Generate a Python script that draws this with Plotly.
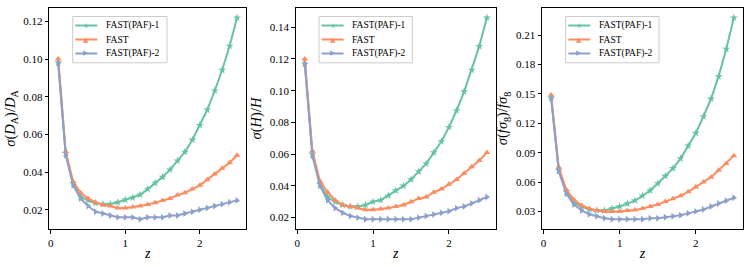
import plotly.graph_objects as go

z = [round(0.1 * i, 1) for i in range(1, 26)]

# Panel 1: sigma(D_A)/D_A
da_paf1 = [0.098, 0.050, 0.034, 0.027, 0.025, 0.0235, 0.023, 0.023, 0.024, 0.0253,
           0.0264, 0.028, 0.031, 0.0342, 0.0374, 0.0413, 0.046, 0.0507, 0.0571, 0.0649,
           0.0731, 0.0832, 0.0942, 0.107, 0.122]
da_fast = [0.100, 0.051, 0.035, 0.029, 0.026, 0.024, 0.0225, 0.022, 0.021, 0.021,
           0.0215, 0.022, 0.0228, 0.0238, 0.025, 0.026, 0.0278, 0.029, 0.031, 0.033,
           0.036, 0.039, 0.042, 0.045, 0.049]
da_paf2 = [0.098, 0.049, 0.033, 0.026, 0.022, 0.019, 0.018, 0.017, 0.016, 0.016,
           0.016, 0.015, 0.016, 0.016, 0.016, 0.017, 0.017, 0.018, 0.019, 0.020,
           0.021, 0.022, 0.023, 0.024, 0.025]

# Panel 2: sigma(H)/H
h_paf1 = [0.117, 0.060, 0.041, 0.033, 0.030, 0.028, 0.027, 0.027, 0.028, 0.030,
          0.031, 0.0338, 0.037, 0.040, 0.044, 0.049, 0.054, 0.061, 0.068, 0.077,
          0.0875, 0.0994, 0.113, 0.128, 0.146]
h_fast = [0.120, 0.062, 0.043, 0.036, 0.031, 0.028, 0.027, 0.026, 0.025, 0.025,
          0.0255, 0.026, 0.027, 0.028, 0.030, 0.032, 0.033, 0.036, 0.038, 0.041,
          0.044, 0.048, 0.052, 0.056, 0.061]
h_paf2 = [0.117, 0.059, 0.040, 0.031, 0.026, 0.023, 0.021, 0.020, 0.019, 0.019,
          0.019, 0.019, 0.019, 0.019, 0.019, 0.020, 0.021, 0.022, 0.023, 0.024,
          0.026, 0.027, 0.029, 0.031, 0.033]

# Panel 3: sigma(f sigma_8)/f sigma_8
fs_paf1 = [0.146, 0.072, 0.050, 0.039, 0.035, 0.032, 0.031, 0.031, 0.033, 0.035,
           0.038, 0.041, 0.046, 0.0513, 0.0585, 0.066, 0.074, 0.084, 0.097, 0.110,
           0.127, 0.145, 0.168, 0.196, 0.228]
fs_fast = [0.149, 0.075, 0.052, 0.042, 0.036, 0.033, 0.031, 0.030, 0.030, 0.030,
           0.031, 0.0315, 0.033, 0.035, 0.037, 0.040, 0.043, 0.046, 0.050, 0.055,
           0.060, 0.065, 0.072, 0.079, 0.087]
fs_paf2 = [0.146, 0.071, 0.048, 0.037, 0.031, 0.027, 0.025, 0.023, 0.022, 0.022,
           0.022, 0.022, 0.022, 0.023, 0.023, 0.024, 0.025, 0.026, 0.028, 0.030,
           0.032, 0.035, 0.038, 0.041, 0.044]

series_names = ["FAST(PAF)-1", "FAST", "FAST(PAF)-2"]
colors = ["#66c2a5", "#fc8d62", "#8da0cb"]
symbols = ["star", "triangle-up", "triangle-right"]
legend_glyphs = ["★", "▲", "▶"]

y_titles = [
    "<i>σ</i>(<i>D</i><sub>A</sub>)/<i>D</i><sub>A</sub>",
    "<i>σ</i>(<i>H</i>)/<i>H</i>",
    "<i>σ</i>(<i>fσ</i><sub>8</sub>)/<i>fσ</i><sub>8</sub>",
]
y_ticks = [
    [0.02, 0.04, 0.06, 0.08, 0.10, 0.12],
    [0.02, 0.04, 0.06, 0.08, 0.10, 0.12, 0.14],
    [0.03, 0.06, 0.09, 0.12, 0.15, 0.18, 0.21],
]
x_ticks = [0, 1, 2]

panels = [
    [da_paf1, da_fast, da_paf2],
    [h_paf1, h_fast, h_paf2],
    [fs_paf1, fs_fast, fs_paf2],
]

W, H = 747, 267
FONT = "Liberation Serif"


def px(xpage):
    return xpage / W


def py(ypage):
    return 1 - ypage / H


# pixel geometry (page coords) of axes frames
xdom_px = [(49.3, 246.0), (295.7, 496.0), (542.0, 743.0)]
ydom_px = (7.6, 229.3)
# legend boxes: left, top, right, bottom (page px)
legend_box = [(72.7, 16.5, 167.0, 62.8), (319.0, 16.5, 412.3, 62.8), (565.7, 16.5, 659.0, 62.8)]
row_offsets = [9.0, 23.0, 37.0]

fig = go.Figure()
for p, data in enumerate(panels):
    sfx = "" if p == 0 else str(p + 1)
    for k in range(3):
        fig.add_trace(go.Scatter(
            x=z, y=data[k], mode="lines+markers", name=series_names[k],
            line=dict(color=colors[k], width=2),
            marker=dict(symbol=symbols[k], size=6, color=colors[k], line=dict(width=0)),
            xaxis="x" + sfx, yaxis="y" + sfx,
            showlegend=False,
        ))

layout = dict(
    width=W, height=H,
    margin=dict(l=0, r=0, t=0, b=0),
    paper_bgcolor="white", plot_bgcolor="white",
    font=dict(family=FONT, size=10, color="black"),
    showlegend=False,
)

shapes = []
annotations = []
ydom = [py(ydom_px[1]), py(ydom_px[0])]
for p in range(3):
    sfx = "" if p == 0 else str(p + 1)
    allv = panels[p][0] + panels[p][1] + panels[p][2]
    lo, hi = min(allv), max(allv)
    pad = 0.05 * (hi - lo)
    axis_common = dict(
        showline=True, mirror=True, linecolor="black", linewidth=1,
        ticks="outside", ticklen=3.5, tickwidth=1, tickcolor="black",
        showgrid=False, zeroline=False,
        tickfont=dict(family=FONT, size=11, color="black"),
    )
    layout["xaxis" + sfx] = dict(
        axis_common,
        domain=[px(xdom_px[p][0]), px(xdom_px[p][1])],
        range=[-0.02, 2.62], tickvals=x_ticks, ticktext=[str(t) for t in x_ticks],
        anchor="y" + sfx,
        title=dict(text="<i>z</i>", font=dict(family=FONT, size=14), standoff=0),
    )
    layout["yaxis" + sfx] = dict(
        axis_common,
        domain=ydom,
        range=[lo - pad, hi + pad], tickvals=y_ticks[p],
        ticktext=["%.2f" % t for t in y_ticks[p]],
        anchor="x" + sfx,
        title=dict(text=y_titles[p], font=dict(family=FONT, size=14.5), standoff=4),
    )

    # manual legend (matplotlib style)
    l, t, r, b = legend_box[p]
    shapes.append(dict(
        type="rect", xref="paper", yref="paper",
        x0=px(l), x1=px(r), y0=py(b), y1=py(t),
        line=dict(color="#cccccc", width=1), fillcolor="rgba(255,255,255,0.8)",
        layer="above",
    ))
    for k in range(3):
        yc = t + row_offsets[k]
        shapes.append(dict(
            type="line", xref="paper", yref="paper",
            x0=px(l + 2.6), x1=px(l + 24.6), y0=py(yc), y1=py(yc),
            line=dict(color=colors[k], width=2), layer="above",
        ))
        annotations.append(dict(
            xref="paper", yref="paper", x=px(l + 13.6), y=py(yc),
            text=legend_glyphs[k], showarrow=False, xanchor="center", yanchor="middle",
            font=dict(family="DejaVu Sans", size=7, color=colors[k]),
        ))
        annotations.append(dict(
            xref="paper", yref="paper", x=px(l + 31.0), y=py(yc),
            text=series_names[k], showarrow=False, xanchor="left", yanchor="middle",
            font=dict(family=FONT, size=9.5, color="black"),
        ))

layout["shapes"] = shapes
layout["annotations"] = annotations
fig.update_layout(**layout)
fig.write_html(
    "out.html",
    config={"displayModeBar": False},
    post_script="document.body.style.margin='0px';document.body.style.overflow='hidden';",
)
